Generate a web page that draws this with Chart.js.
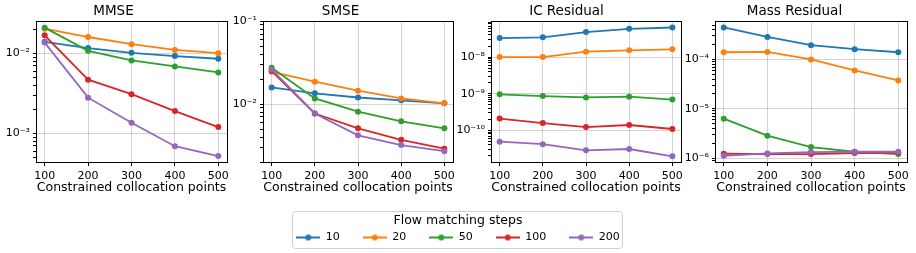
<!DOCTYPE html>
<html>
<head>
<meta charset="utf-8">
<script src="https://cdn.jsdelivr.net/npm/chart.js@4.4.1/dist/chart.umd.min.js"></script>
<style>
  body { margin: 0; background: #fff; width: 916px; height: 253px; overflow: hidden; position: relative; }
  canvas { position: absolute; }
</style>
</head>
<body>
<canvas id="c1" width="234" height="196" style="left:0px;top:0px"></canvas>
<canvas id="c2" width="232" height="196" style="left:228px;top:0px"></canvas>
<canvas id="c3" width="236" height="196" style="left:452px;top:0px"></canvas>
<canvas id="c4" width="234" height="196" style="left:682px;top:0px"></canvas>
<canvas id="leg" width="420" height="140" style="left:248px;top:201px"></canvas>
<script>
const points = [100, 200, 300, 400, 500];
const steps = ["10", "20", "50", "100", "200"];
const colors = ["#1f77b4", "#ff7f0e", "#2ca02c", "#d62728", "#9467bd"];

// one row per flow matching step count, same order as steps
const mmse = [
  [0.0140, 0.0117, 0.0102, 0.0093, 0.0086],
  [0.0205, 0.0161, 0.0131, 0.0111, 0.0101],
  [0.0211, 0.0108, 0.0082, 0.0069, 0.0058],
  [0.0169, 0.0047, 0.0031, 0.0019, 0.0012],
  [0.0137, 0.0028, 0.00136, 0.00069, 0.00052]
];
const smse = [
  [0.0159, 0.0135, 0.0120, 0.0111, 0.0102],
  [0.0245, 0.0186, 0.0145, 0.0117, 0.0102],
  [0.0274, 0.0117, 0.0081, 0.0062, 0.0051],
  [0.0250, 0.0077, 0.0051, 0.0037, 0.0029],
  [0.0262, 0.0077, 0.0042, 0.0032, 0.0027]
];
const icResidual = [
  [3.3e-8, 3.44e-8, 4.8e-8, 5.9e-8, 6.4e-8],
  [1.0e-8, 1.0e-8, 1.4e-8, 1.52e-8, 1.62e-8],
  [9.6e-10, 8.6e-10, 7.9e-10, 8.3e-10, 6.9e-10],
  [2.1e-10, 1.58e-10, 1.23e-10, 1.4e-10, 1.09e-10],
  [4.9e-11, 4.2e-11, 2.85e-11, 3.1e-11, 1.96e-11]
];
const massResidual = [
  [4.46e-4, 2.87e-4, 1.95e-4, 1.62e-4, 1.4e-4],
  [1.4e-4, 1.42e-4, 1.0e-4, 5.98e-5, 3.75e-5],
  [6.3e-6, 2.84e-6, 1.67e-6, 1.34e-6, 1.2e-6],
  [1.22e-6, 1.2e-6, 1.2e-6, 1.26e-6, 1.28e-6],
  [1.11e-6, 1.24e-6, 1.32e-6, 1.34e-6, 1.34e-6]
];

Chart.defaults.font.family = "'DejaVu Sans', sans-serif";
Chart.defaults.color = "#000";

const gridColor = "rgba(0,0,0,0.17)";
const supDigits = { "0": "⁰", "1": "¹", "2": "²", "3": "³", "4": "⁴", "5": "⁵", "6": "⁶", "7": "⁷", "8": "⁸", "9": "⁹", "-": "⁻" };

function isDecade(v) {
  const e = Math.log10(v);
  return Math.abs(e - Math.round(e)) < 1e-6;
}
function decadeLabel(v) {
  const e = String(Math.round(Math.log10(v)));
  return "10" + e.split("").map(c => supDigits[c]).join("");
}
function logTicks(min, max) {
  const out = [];
  for (let e = Math.floor(Math.log10(min)); e <= Math.ceil(Math.log10(max)); e++) {
    for (let m = 1; m < 10; m++) {
      const v = m * Math.pow(10, e);
      if (v >= min * 0.9999 && v <= max * 1.0001) out.push({ value: v, major: m === 1 });
    }
  }
  return out;
}

// matplotlib draws all four spines
const framePlugin = {
  id: "frame",
  afterDraw(chart) {
    const a = chart.chartArea, ctx = chart.ctx;
    ctx.save();
    ctx.strokeStyle = "#000";
    ctx.lineWidth = 1;
    ctx.strokeRect(Math.round(a.left) + 0.5, Math.round(a.top) + 0.5,
      Math.round(a.right - a.left), Math.round(a.bottom - a.top));
    ctx.restore();
  }
};

function drawPanel(id, title, rows, ymin, ymax, yWidth, rightPad) {
  const ctx = document.getElementById(id).getContext("2d");
  return new Chart(ctx, {
    type: "line",
    data: {
      datasets: rows.map((row, i) => ({
        label: steps[i],
        data: points.map((p, j) => ({ x: p, y: row[j] })),
        borderColor: colors[i],
        backgroundColor: colors[i],
        borderWidth: 1.8,
        pointRadius: 3,
        pointBorderWidth: 0,
        pointBackgroundColor: colors[i],
        tension: 0,
        clip: false,
        order: rows.length - i
      }))
    },
    options: {
      responsive: false,
      animation: false,
      devicePixelRatio: 1,
      layout: { padding: { left: 0, right: rightPad, top: 0, bottom: 0 } },
      plugins: {
        legend: { display: false },
        tooltip: { enabled: false },
        title: {
          display: true,
          text: title,
          color: "#000",
          font: { size: 13.5, weight: "normal" },
          padding: { top: 3, bottom: 2 }
        }
      },
      scales: {
        x: {
          type: "linear",
          min: 80,
          max: 520,
          afterBuildTicks(s) { s.ticks = points.map(v => ({ value: v })); },
          afterFit(s) { s.height = 34; },
          ticks: { font: { size: 11 }, color: "#000", padding: 4, maxRotation: 0, autoSkip: false },
          grid: { color: gridColor, tickColor: "#000", tickLength: 4 },
          border: { display: false },
          title: {
            display: true,
            text: "Constrained collocation points",
            color: "#000",
            font: { size: 12.5 },
            padding: { top: 0, bottom: 1 }
          }
        },
        y: {
          type: "logarithmic",
          min: ymin,
          max: ymax,
          afterBuildTicks(s) { s.ticks = logTicks(ymin, ymax); },
          afterFit(s) { s.width = yWidth; },
          ticks: {
            font: { size: 11 },
            color: "#000",
            padding: 3,
            autoSkip: false,
            callback: v => isDecade(v) ? decadeLabel(v) : ""
          },
          grid: {
            color: c => (c.tick && isDecade(c.tick.value)) ? gridColor : "rgba(0,0,0,0)",
            tickColor: "#000",
            tickLength: 3
          },
          border: { display: false }
        }
      }
    },
    plugins: [framePlugin]
  });
}

drawPanel("c1", "MMSE", mmse, 4.38e-4, 0.0254, 36, 7);
drawPanel("c2", "SMSE", smse, 0.002, 0.1, 35, 7);
drawPanel("c3", "IC Residual", icResidual, 1.37e-11, 9.5e-8, 39, 7);
drawPanel("c4", "Mass Residual", massResidual, 8.3e-7, 5.98e-4, 33, 9);

// legend marker: short line with a dot, like matplotlib
function legendIcon(color) {
  const c = document.createElement("canvas");
  c.width = 24;
  c.height = 8;
  const g = c.getContext("2d");
  g.strokeStyle = color;
  g.lineWidth = 2;
  g.beginPath();
  g.moveTo(0, 4);
  g.lineTo(24, 4);
  g.stroke();
  g.fillStyle = color;
  g.beginPath();
  g.arc(12, 4, 3, 0, Math.PI * 2);
  g.fill();
  return c;
}

const legendFrame = {
  id: "legendFrame",
  afterDraw(chart) {
    const boxes = chart.legend.legendHitBoxes;
    let left = Infinity, right = -Infinity, mid = 0;
    boxes.forEach(b => {
      left = Math.min(left, b.left);
      right = Math.max(right, b.left + b.width);
      mid = b.top + b.height / 2;
    });
    const ctx = chart.ctx;
    ctx.save();
    ctx.strokeStyle = "#d0d0d0";
    ctx.lineWidth = 1;
    ctx.beginPath();
    ctx.roundRect(Math.round(left - 4) + 0.5, Math.round(mid - 27) + 0.5, Math.round(right - left + 7), 37, 3);
    ctx.stroke();
    ctx.restore();
  }
};

new Chart(document.getElementById("leg").getContext("2d"), {
  type: "line",
  data: {
    datasets: steps.map((s, i) => ({
      label: s,
      data: [],
      borderColor: colors[i],
      backgroundColor: colors[i],
      pointStyle: legendIcon(colors[i])
    }))
  },
  options: {
    responsive: false,
    animation: false,
    devicePixelRatio: 1,
    layout: { padding: { top: 10 } },
    scales: { x: { display: false }, y: { display: false } },
    plugins: {
      tooltip: { enabled: false },
      legend: {
        position: "top",
        align: "center",
        title: {
          display: true,
          text: "Flow matching steps",
          color: "#000",
          font: { size: 12.5 },
          padding: { top: 3, bottom: -20 }
        },
        labels: {
          usePointStyle: true,
          pointStyleWidth: 24,
          font: { size: 11 },
          color: "#000",
          padding: 23,
          boxHeight: 11
        }
      }
    }
  },
  plugins: [legendFrame]
});
</script>
</body>
</html>
